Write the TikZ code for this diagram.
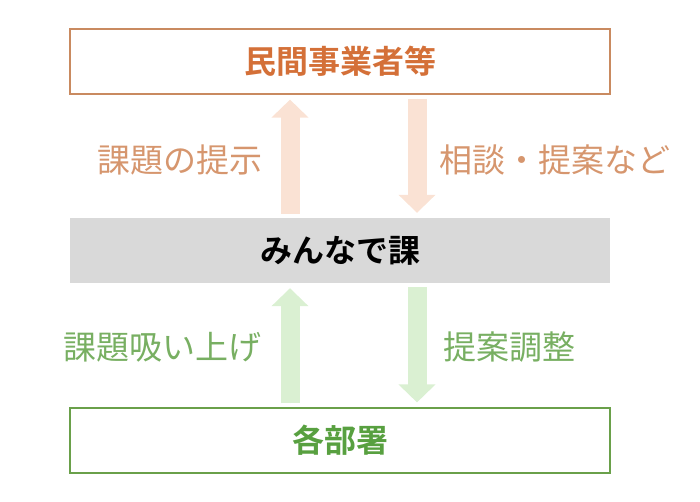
\documentclass[tikz,border=0pt]{standalone}
\usepackage{fontspec}
\newfontfamily\jp{Noto Sans CJK JP}
\newfontfamily\jpb{Noto Sans CJK JP Bold}
\usetikzlibrary{arrows.meta}
\definecolor{orText}{RGB}{212,112,56}
\definecolor{orLine}{RGB}{201,138,96}
\definecolor{orLabel}{RGB}{214,150,110}
\definecolor{orArrow}{RGB}{250,226,212}
\definecolor{grFill}{RGB}{217,217,217}
\definecolor{gnText}{RGB}{88,160,64}
\definecolor{gnLine}{RGB}{106,160,74}
\definecolor{gnLabel}{RGB}{120,175,98}
\definecolor{gnArrow}{RGB}{218,240,210}
\tikzset{
  boxbase/.style={minimum width=540pt,minimum height=65pt,inner sep=0pt,font=\jpb\fontsize{32}{36}\selectfont},
  orbox/.style={boxbase,draw=orLine,line width=1.2pt,text=orText},
  grbox/.style={boxbase,fill=grFill,text=black},
  gnbox/.style={boxbase,draw=gnLine,line width=1.2pt,text=gnText},
  fatarrow/.style={line width=19pt,-{Triangle[width=36pt,length=18pt]},shorten <=4pt,shorten >=5pt},
  orlab/.style={font=\jp\fontsize{33}{36}\selectfont,text=orLabel,inner sep=0pt},
  gnlab/.style={font=\jp\fontsize{33}{36}\selectfont,text=gnLabel,inner sep=0pt}
}
\begin{document}
\begin{tikzpicture}[x=1pt,y=-1pt]
\useasboundingbox (0,0) rectangle (700,501);
\node[orbox] (top) at (340,61.5) {民間事業者等};
\node[grbox] (mid) at (340,250.5) {みんなで課};
\node[gnbox] (bot) at (340,440.5) {各部署};
\draw[fatarrow,draw=orArrow,fill=orArrow] ([xshift=-50pt]mid.north) -- ([xshift=-50pt]top.south);
\draw[fatarrow,draw=orArrow,fill=orArrow] ([xshift=77pt]top.south) -- ([xshift=77pt]mid.north);
\draw[fatarrow,draw=gnArrow,fill=gnArrow] ([xshift=-50pt]bot.north) -- ([xshift=-50pt]mid.south);
\draw[fatarrow,draw=gnArrow,fill=gnArrow] ([xshift=77pt]mid.south) -- ([xshift=77pt]bot.north);
\node[orlab] (l1) at (180,160) {課題の提示};
\node[orlab] (l2) at (555,160) {相談・提案など};
\node[gnlab] (l3) at (162,347) {課題吸い上げ};
\node[gnlab] (l4) at (509,347) {提案調整};
\end{tikzpicture}
\end{document}
